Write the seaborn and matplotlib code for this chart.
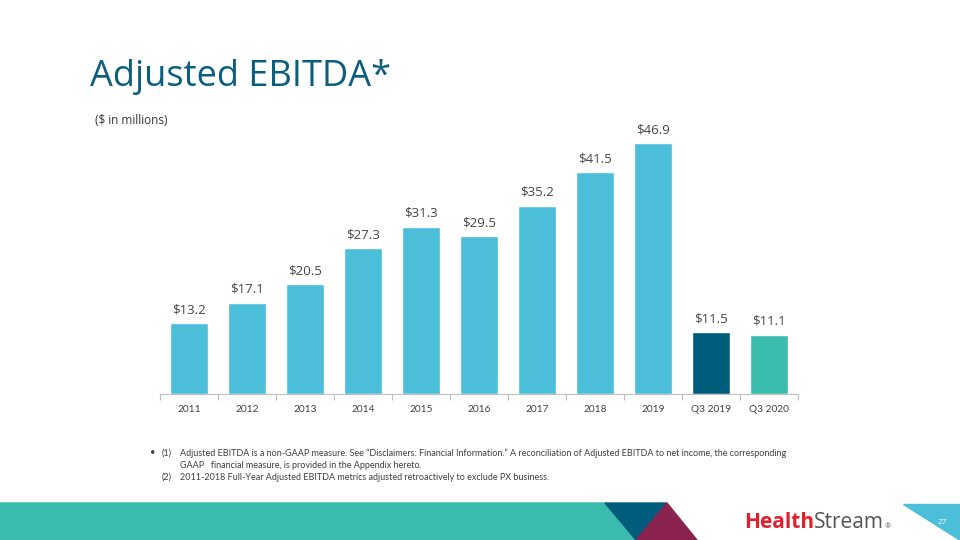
import numpy as np
import pandas as pd
import matplotlib
matplotlib.use("Agg")
import matplotlib.pyplot as plt
import seaborn as sns
from matplotlib.patches import Polygon

periods = ['2011', '2012', '2013', '2014', '2015', '2016', '2017', '2018', '2019', 'Q3 2019', 'Q3 2020']
ebitda = [13.2, 17.1, 20.5, 27.3, 31.3, 29.5, 35.2, 41.5, 46.9, 11.5, 11.1]
bar_colors = ['#4BBED9'] * 9 + ['#005C7B', '#3BBCAC']

df = pd.DataFrame({'period': periods, 'ebitda': ebitda})

sns.set_style('white')
plt.rcParams['font.family'] = ['Open Sans', 'DejaVu Sans']

fig = plt.figure(figsize=(9.6, 5.4), dpi=100)
ax = fig.add_axes([160 / 960, 1 - 394 / 540, 638 / 960, 267.5 / 540])

sns.barplot(data=df, x='period', y='ebitda', hue='period', palette=bar_colors,
            legend=False, width=0.67, saturation=1, ax=ax)
ax.set_ylim(0, 50)
ax.set_xlim(-0.5, len(periods) - 0.5)

for i, v in enumerate(ebitda):
    ax.annotate(f'${v:.1f}', (i, v), xytext=(0, 5), textcoords='offset points',
                ha='center', va='bottom', fontsize=9.5, color='#444444')

# axis styling
for s in ['top', 'right', 'left']:
    ax.spines[s].set_visible(False)
ax.spines['bottom'].set_color('#BFBFBF')
ax.set_yticks([])
ax.set_xlabel('')
ax.set_ylabel('')
ax.set_xticks(np.arange(len(periods)))
ax.set_xticklabels(periods, fontsize=7.3, color='#404040', family=['Lato', 'DejaVu Sans'])
ax.tick_params(axis='x', which='major', bottom=True, length=0, pad=8)
ax.set_xticks(np.arange(len(periods) + 1) - 0.5, minor=True)
ax.tick_params(axis='x', which='minor', bottom=True, length=4, color='#BFBFBF', width=0.8)

# title and subtitle
fig.text(90 / 960, 1 - 86 / 540, 'Adjusted EBITDA*', fontsize=26, color='#0B5E7E',
         ha='left', va='baseline')
fig.text(95 / 960, 1 - 120 / 540, '($ in millions)', fontsize=8.5, color='#333333',
         ha='left', va='center')

# footnotes
fn = dict(fontsize=6.5, color='#404040', family=['Lato', 'DejaVu Sans'], va='center', ha='left')
fig.text(150 / 960, 1 - 453 / 540, '\u2022', **fn)
fig.text(162 / 960, 1 - 453 / 540, '(1)', **fn)
fig.text(180 / 960, 1 - 453 / 540,
         'Adjusted EBITDA is a non-GAAP measure. See \u201cDisclaimers: Financial Information.\u201d '
         'A reconciliation of Adjusted EBITDA to net income, the corresponding', **fn)
fig.text(180 / 960, 1 - 465 / 540,
         'GAAP   financial measure, is provided in the Appendix hereto.', **fn)
fig.text(162 / 960, 1 - 477 / 540, '(2)', **fn)
fig.text(180 / 960, 1 - 477 / 540,
         '2011-2018 Full-Year Adjusted EBITDA metrics adjusted retroactively to exclude PX business.', **fn)

# bottom decoration band
def px(pts):
    return [(x / 960, 1 - y / 540) for x, y in pts]

fig.patches.append(Polygon(px([(0, 503), (605, 503), (636, 540), (0, 540)]),
                           closed=True, transform=fig.transFigure, color='#3BBBAD', zorder=0))
fig.patches.append(Polygon(px([(605, 503), (667, 503), (636, 540)]),
                           closed=True, transform=fig.transFigure, color='#005C7B', zorder=0))
fig.patches.append(Polygon(px([(667, 503), (697, 540), (636, 540)]),
                           closed=True, transform=fig.transFigure, color='#8A2350', zorder=0))
fig.patches.append(Polygon(px([(903, 504), (960, 504), (960, 540)]),
                           closed=True, transform=fig.transFigure, color='#4BBED9', zorder=0))
fig.text(942 / 960, 1 - 522 / 540, '27', fontsize=6, color='white', ha='center', va='center')

# logo text
t1 = fig.text(744 / 960, 1 - 522 / 540, 'Health', fontsize=15, color='#E2202C',
              fontweight='bold', ha='left', va='center', family=['Open Sans', 'DejaVu Sans'])
fig.canvas.draw()
bb = t1.get_window_extent()
t2 = fig.text(bb.x1 / 960, 1 - 522 / 540, 'Stream', fontsize=15, color='#555555',
              ha='left', va='center', family=['Open Sans', 'DejaVu Sans'])
fig.canvas.draw()
bb2 = t2.get_window_extent()
fig.text(bb2.x1 / 960 + 0.001, 1 - 527 / 540, '\u00ae', fontsize=5, color='#555555',
         ha='left', va='center')

fig.savefig('out.png', dpi=100)
